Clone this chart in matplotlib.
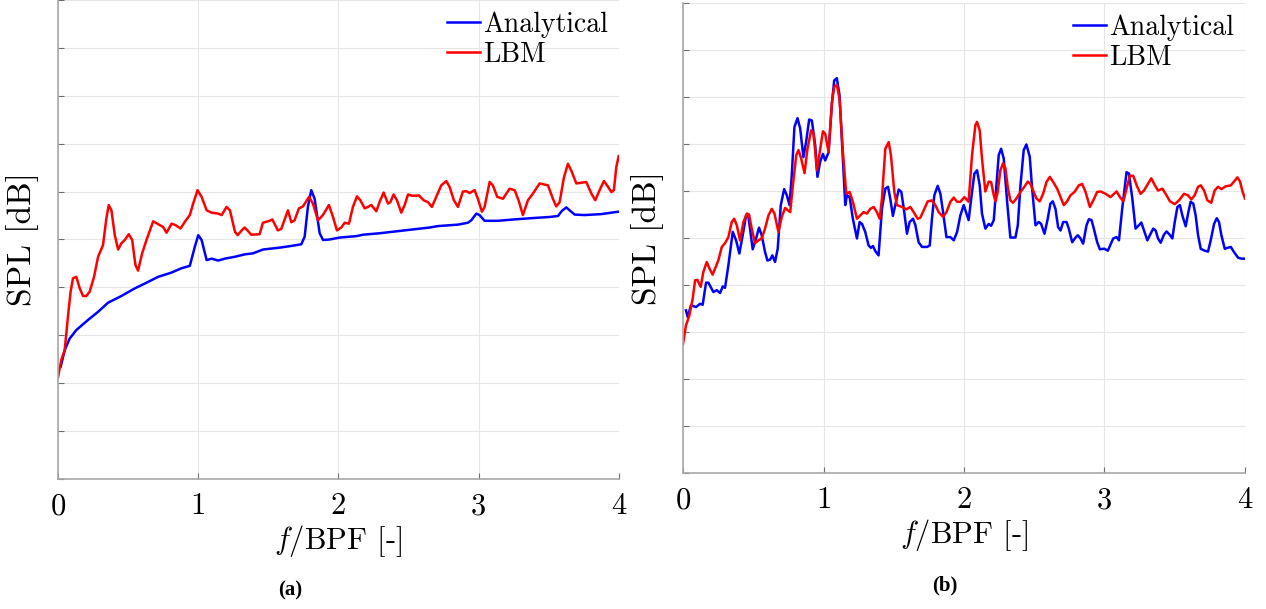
import matplotlib
matplotlib.use('Agg')
import matplotlib.pyplot as plt

plt.rcParams['font.family'] = 'cmr10'
plt.rcParams['mathtext.fontset'] = 'cm'
plt.rcParams['axes.unicode_minus'] = False

# panel (a)
a_ana_x = [0.02, 0.048, 0.083, 0.131, 0.214, 0.286, 0.357, 0.452, 0.548, 0.619, 0.714, 0.81, 0.881, 0.94,
           0.976, 1.0, 1.024, 1.06, 1.095, 1.143, 1.19, 1.262, 1.333, 1.39, 1.461, 1.58, 1.652, 1.735, 1.759,
           1.782, 1.806, 1.83, 1.866, 1.89, 1.937, 2.008, 2.127, 2.175, 2.294, 2.412, 2.531, 2.65, 2.71, 2.852,
           2.923, 2.947, 2.983, 3.006, 3.042, 3.137, 3.256, 3.399, 3.506, 3.565, 3.594, 3.625, 3.648, 3.684,
           3.755, 3.874, 3.969, 3.998]
a_ana_y = [2.35, 2.69, 2.93, 3.11, 3.32, 3.49, 3.68, 3.82, 3.98, 4.08, 4.22, 4.31, 4.40, 4.45,
           4.85, 5.09, 4.99, 4.57, 4.60, 4.56, 4.60, 4.64, 4.69, 4.71, 4.79, 4.83, 4.86, 4.90, 5.06,
           5.68, 6.03, 5.85, 5.13, 4.99, 5.0, 5.04, 5.07, 5.10, 5.13, 5.17, 5.21, 5.25, 5.28, 5.31,
           5.35, 5.40, 5.54, 5.51, 5.39, 5.39, 5.42, 5.45, 5.47, 5.49, 5.60, 5.67, 5.61, 5.52,
           5.51, 5.53, 5.57, 5.58]

a_lbm_x = [0.0, 0.024, 0.048, 0.071, 0.09, 0.107, 0.131, 0.155, 0.179, 0.202, 0.226, 0.257, 0.286, 0.321,
           0.345, 0.362, 0.381, 0.405, 0.429, 0.452, 0.476, 0.505, 0.529, 0.552, 0.571, 0.6, 0.631, 0.679,
           0.714, 0.75, 0.774, 0.81, 0.838, 0.874, 0.905, 0.94, 0.964, 0.995, 1.024, 1.06, 1.095, 1.143,
           1.167, 1.202, 1.226, 1.262, 1.281, 1.31, 1.331, 1.354, 1.378, 1.438, 1.461, 1.509, 1.528, 1.568,
           1.592, 1.64, 1.664, 1.687, 1.718, 1.747, 1.79, 1.818, 1.854, 1.889, 1.932, 1.961, 1.989, 2.02,
           2.044, 2.075, 2.103, 2.132, 2.156, 2.187, 2.211, 2.234, 2.27, 2.294, 2.322, 2.353, 2.37, 2.393,
           2.417, 2.448, 2.472, 2.496, 2.531, 2.574, 2.607, 2.638, 2.666, 2.697, 2.733, 2.769, 2.792, 2.823,
           2.852, 2.887, 2.911, 2.935, 2.971, 2.994, 3.023, 3.042, 3.078, 3.101, 3.132, 3.173, 3.22, 3.256,
           3.284, 3.315, 3.351, 3.387, 3.434, 3.494, 3.529, 3.553, 3.577, 3.608, 3.636, 3.66, 3.696, 3.767,
           3.803, 3.831, 3.862, 3.893, 3.922, 3.946, 3.964, 3.981, 3.998]
a_lbm_y = [2.12, 2.49, 2.69, 3.39, 3.91, 4.19, 4.22, 3.98, 3.82, 3.82, 3.91, 4.22, 4.64, 4.88,
           5.44, 5.72, 5.61, 5.09, 4.79, 4.92, 4.99, 5.11, 4.99, 4.47, 4.35, 4.71, 4.99, 5.38,
           5.32, 5.26, 5.14, 5.33, 5.30, 5.23, 5.37, 5.51, 5.75, 6.03, 5.89, 5.61, 5.56, 5.54,
           5.51, 5.68, 5.61, 5.16, 5.09, 5.19, 5.25, 5.18, 5.10, 5.11, 5.35, 5.39, 5.42, 5.19,
           5.22, 5.61, 5.36, 5.40, 5.65, 5.69, 5.89, 5.75, 5.40, 5.51, 5.72, 5.47, 5.19, 5.25,
           5.35, 5.33, 5.68, 5.90, 5.82, 5.65, 5.68, 5.72, 5.59, 5.79, 5.98, 5.75, 5.78, 5.94,
           5.82, 5.56, 5.72, 5.94, 5.91, 5.92, 5.82, 5.78, 5.68, 5.89, 6.13, 6.22, 6.10, 5.82,
           5.68, 6.0, 6.01, 5.97, 6.03, 5.85, 5.58, 5.68, 6.20, 6.13, 5.89, 5.85, 6.06, 6.03,
           5.82, 5.51, 5.82, 5.96, 6.17, 6.13, 5.85, 5.69, 5.78, 6.30, 6.58, 6.44, 6.17, 6.20,
           5.96, 5.82, 6.03, 6.22, 6.10, 5.99, 6.03, 6.51, 6.74]

# panel (b)
b_ana_x = [0.021, 0.033, 0.057, 0.093, 0.121, 0.14, 0.164, 0.181, 0.216, 0.24, 0.264, 0.283, 0.299, 0.323,
           0.354, 0.378, 0.401, 0.425, 0.449, 0.466, 0.496, 0.52, 0.541, 0.56, 0.584, 0.601, 0.62, 0.636,
           0.655, 0.674, 0.696, 0.72, 0.739, 0.758, 0.774, 0.793, 0.815, 0.834, 0.857, 0.876, 0.898, 0.917,
           0.941, 0.957, 0.976, 0.996, 1.012, 1.036, 1.06, 1.076, 1.095, 1.114, 1.138, 1.155, 1.167, 1.186,
           1.209, 1.238, 1.257, 1.274, 1.297, 1.321, 1.338, 1.352, 1.369, 1.392, 1.416, 1.44, 1.459, 1.475,
           1.494, 1.518, 1.535, 1.554, 1.575, 1.594, 1.613, 1.637, 1.654, 1.677, 1.701, 1.737, 1.756, 1.772,
           1.789, 1.813, 1.832, 1.851, 1.875, 1.903, 1.927, 1.951, 1.974, 1.998, 2.033, 2.057, 2.074, 2.093,
           2.112, 2.128, 2.152, 2.176, 2.193, 2.212, 2.231, 2.247, 2.264, 2.283, 2.307, 2.33, 2.366, 2.383,
           2.402, 2.425, 2.444, 2.468, 2.485, 2.509, 2.532, 2.549, 2.573, 2.596, 2.615, 2.632, 2.651, 2.67,
           2.687, 2.706, 2.73, 2.746, 2.77, 2.794, 2.81, 2.829, 2.848, 2.872, 2.889, 2.908, 2.924, 2.948,
           2.967, 2.991, 3.0, 3.024, 3.062, 3.086, 3.103, 3.126, 3.157, 3.174, 3.198, 3.221, 3.245, 3.262,
           3.281, 3.305, 3.328, 3.347, 3.364, 3.381, 3.4, 3.423, 3.442, 3.464, 3.483, 3.5, 3.519, 3.537,
           3.554, 3.578, 3.597, 3.613, 3.632, 3.649, 3.666, 3.685, 3.713, 3.737, 3.756, 3.78, 3.799, 3.815,
           3.832, 3.856, 3.875, 3.899, 3.922, 3.951, 3.975, 4.0]
b_ana_y = [3.46, 3.32, 3.57, 3.53, 3.60, 3.58, 4.05, 4.05, 3.85, 3.89, 3.83, 3.97, 3.94, 4.42,
           5.13, 4.95, 4.67, 5.06, 5.48, 5.45, 4.76, 4.99, 5.22, 5.06, 4.70, 4.52, 4.54, 4.63,
           4.49, 4.77, 5.70, 6.04, 5.91, 5.70, 6.33, 7.36, 7.55, 7.33, 6.72, 7.04, 7.52, 7.50,
           6.97, 6.30, 6.62, 6.79, 6.65, 6.82, 7.86, 8.35, 8.40, 8.04, 6.69, 5.70, 5.91, 5.87,
           5.41, 4.99, 5.34, 5.30, 5.13, 4.84, 4.79, 4.83, 4.72, 4.63, 5.62, 6.05, 6.09, 5.84,
           5.47, 5.80, 6.03, 5.98, 5.55, 5.09, 5.34, 5.41, 5.27, 4.91, 4.81, 4.81, 4.84, 5.41,
           5.91, 6.11, 5.94, 5.55, 5.02, 5.02, 4.95, 5.13, 5.48, 5.70, 5.38, 5.98, 6.37, 6.44,
           6.12, 5.52, 5.20, 5.30, 5.26, 5.38, 6.12, 6.76, 6.90, 6.69, 5.77, 5.01, 5.01, 5.27,
           6.12, 6.87, 6.99, 6.73, 6.05, 5.27, 5.34, 5.30, 5.09, 5.41, 5.73, 5.78, 5.62, 5.23,
           5.16, 5.34, 5.34, 5.20, 4.91, 5.01, 5.06, 4.99, 4.88, 5.27, 5.40, 5.38, 5.20, 4.91,
           4.76, 4.77, 4.77, 4.73, 4.99, 5.02, 4.95, 5.62, 6.40, 6.37, 5.84, 5.20, 5.27, 5.33,
           5.16, 4.95, 5.09, 5.20, 5.16, 4.99, 4.90, 5.07, 5.14, 5.07, 4.99, 5.34, 5.66, 5.70,
           5.48, 5.25, 5.55, 5.77, 5.73, 5.48, 5.06, 4.77, 4.73, 4.71, 4.95, 5.30, 5.42, 5.34,
           5.06, 4.77, 4.79, 4.81, 4.70, 4.58, 4.56, 4.56]

b_lbm_x = [0.0, 0.021, 0.045, 0.069, 0.086, 0.102, 0.126, 0.145, 0.169, 0.188, 0.211, 0.228, 0.252, 0.276,
           0.299, 0.323, 0.347, 0.364, 0.383, 0.406, 0.43, 0.454, 0.47, 0.489, 0.513, 0.537, 0.56, 0.584,
           0.608, 0.632, 0.651, 0.679, 0.703, 0.727, 0.746, 0.763, 0.782, 0.806, 0.822, 0.841, 0.865, 0.886,
           0.912, 0.929, 0.953, 0.977, 0.996, 1.012, 1.036, 1.06, 1.076, 1.095, 1.114, 1.138, 1.162, 1.186,
           1.209, 1.238, 1.262, 1.285, 1.309, 1.333, 1.357, 1.38, 1.4, 1.416, 1.44, 1.464, 1.48, 1.504,
           1.523, 1.559, 1.59, 1.618, 1.642, 1.67, 1.689, 1.713, 1.742, 1.772, 1.796, 1.82, 1.851, 1.875,
           1.903, 1.927, 1.951, 1.974, 2.003, 2.033, 2.057, 2.081, 2.093, 2.112, 2.128, 2.152, 2.176, 2.193,
           2.212, 2.224, 2.24, 2.259, 2.278, 2.295, 2.311, 2.33, 2.349, 2.373, 2.402, 2.43, 2.454, 2.473,
           2.492, 2.516, 2.539, 2.563, 2.587, 2.611, 2.635, 2.663, 2.687, 2.71, 2.734, 2.758, 2.787, 2.817,
           2.841, 2.865, 2.896, 2.92, 2.948, 2.972, 3.008, 3.043, 3.086, 3.11, 3.134, 3.157, 3.181, 3.205,
           3.233, 3.257, 3.281, 3.309, 3.333, 3.357, 3.381, 3.412, 3.435, 3.466, 3.5, 3.53, 3.566, 3.594,
           3.618, 3.642, 3.666, 3.685, 3.709, 3.732, 3.76, 3.784, 3.808, 3.832, 3.863, 3.899, 3.922, 3.946,
           3.965, 3.982, 4.0]
b_lbm_y = [2.75, 3.14, 3.35, 3.71, 4.10, 4.11, 3.96, 4.28, 4.49, 4.35, 4.22, 4.35, 4.53, 4.81,
           4.89, 5.02, 5.34, 5.41, 5.27, 4.95, 5.34, 5.52, 5.50, 5.20, 4.89, 4.95, 4.99, 5.20,
           5.48, 5.62, 5.52, 5.13, 5.45, 5.64, 5.59, 5.55, 6.12, 6.76, 6.87, 6.69, 6.38, 6.90,
           7.29, 7.22, 6.44, 6.90, 7.27, 7.22, 6.83, 7.89, 8.21, 8.26, 7.96, 6.83, 5.94, 5.98,
           5.77, 5.41, 5.48, 5.55, 5.52, 5.62, 5.66, 5.55, 5.41, 5.84, 6.90, 7.04, 6.76, 5.98,
           5.70, 5.66, 5.61, 5.66, 5.55, 5.41, 5.43, 5.59, 5.78, 5.80, 5.70, 5.55, 5.45, 5.55,
           5.77, 5.86, 5.77, 5.77, 5.87, 5.77, 6.76, 7.40, 7.47, 7.29, 6.69, 5.99, 6.20, 6.19,
           5.91, 5.78, 5.98, 6.44, 6.59, 6.48, 6.09, 5.80, 5.75, 5.84, 5.98, 6.09, 6.20, 6.15,
           6.01, 5.84, 5.78, 5.94, 6.19, 6.30, 6.19, 6.05, 5.87, 5.70, 5.78, 5.91, 5.98, 6.12,
           6.15, 5.98, 5.66, 5.80, 5.98, 5.99, 5.94, 5.87, 5.99, 5.87, 5.78, 6.05, 6.33, 6.32,
           6.09, 5.94, 6.01, 6.15, 6.27, 6.13, 6.01, 6.05, 5.94, 5.78, 5.72, 5.80, 5.94, 5.91,
           5.82, 5.91, 6.09, 6.12, 6.01, 5.80, 5.75, 6.01, 6.09, 6.04, 6.10, 6.12, 6.20, 6.29,
           6.20, 5.99, 5.84]

xticks = [0, 1, 2, 3, 4]
xtick_labels = ['0', '1', '2', '3', '4']
yticks = list(range(11))

fig = plt.figure(figsize=(12.66, 6.09), dpi=100)
ax1 = fig.add_axes([0.0458, 0.2135, 0.4431, 0.7865])
ax2 = fig.add_axes([0.5395, 0.2233, 0.4439, 0.7718])

panels = [(ax1, a_ana_x, a_ana_y, a_lbm_x, a_lbm_y), (ax2, b_ana_x, b_ana_y, b_lbm_x, b_lbm_y)]
for ax, ax_x, ax_y, lx, ly in panels:
    ax.plot(ax_x, ax_y, color='#0000ff', lw=1.8, label='Analytical')
    ax.plot(lx, ly, color='#ff0000', lw=1.8, label='LBM')
    ax.set_xlim(0, 4)
    ax.set_ylim(0, 10)
    ax.set_xticks(xticks)
    ax.set_xticklabels(xtick_labels, fontsize=22)
    ax.set_yticks(yticks)
    ax.set_yticklabels([])
    ax.grid(True, color='#e6e6e6', lw=0.8)
    ax.set_axisbelow(True)
    ax.tick_params(direction='in', length=4, width=0.8, color='#707070', pad=10)
    ax.spines['top'].set_visible(False)
    ax.spines['right'].set_visible(False)
    ax.spines['left'].set_color('#a8a8a8')
    ax.spines['bottom'].set_color('#a8a8a8')
    ax.spines['left'].set_linewidth(1.2)
    ax.spines['bottom'].set_linewidth(1.2)
    ax.set_xlabel(r'$f/$BPF [-]', fontsize=22, labelpad=2)
    ax.set_ylabel('SPL [dB]', fontsize=24, labelpad=4)
    ax.legend(loc='upper right', frameon=False, fontsize=20, handlelength=1.2,
              handletextpad=0.1, labelspacing=0.15, borderaxespad=0.2, borderpad=0.2)

fig.text(0.229, 0.022, '(a)', fontsize=15, fontweight='bold', family='Liberation Serif', ha='center')
fig.text(0.746, 0.03, '(b)', fontsize=15, fontweight='bold', family='Liberation Serif', ha='center')

plt.savefig('out.png', dpi=100)
